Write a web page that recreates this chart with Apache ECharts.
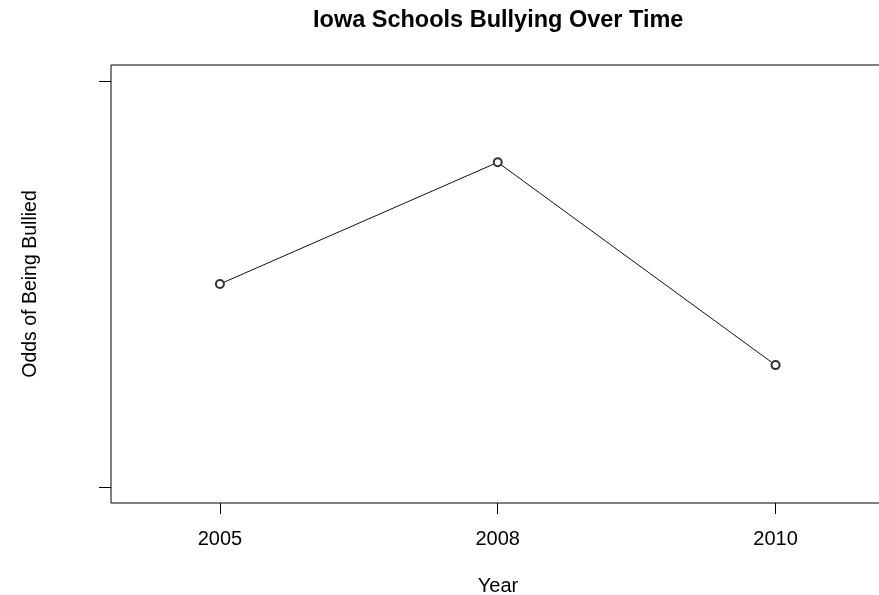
<!DOCTYPE html>
<html>
<head>
<meta charset="utf-8">
<script src="https://cdn.jsdelivr.net/npm/echarts@6/dist/echarts.min.js"></script>
<style>
  html, body { margin: 0; padding: 0; background: #fff; }
  #chart { width: 879px; height: 595px; }
</style>
</head>
<body>
<div id="chart"></div>
<script>
// Survey years (plotted at evenly spaced positions 1, 2, 3)
const years = ['2005', '2008', '2010'];
// Odds of being bullied for each survey year
const odds = [0.5, 0.8, 0.3];
// Y tick positions (drawn without labels)
const yTicks = [0, 1];

const positions = years.map((_, i) => i + 1);
const points = positions.map((p, i) => [p, odds[i]]);

const FONT = '"Liberation Sans", Arial, sans-serif';

const chart = echarts.init(document.getElementById('chart'), null, { renderer: 'canvas' });
chart.setOption({
  backgroundColor: '#ffffff',
  animation: false,
  title: {
    // centred over the plotting region, which runs past the right edge
    text: 'Iowa Schools Bullying Over Time',
    left: 308,
    top: 4,
    textStyle: { fontFamily: FONT, fontSize: 23.5, fontWeight: 'bold', color: '#000' }
  },
  grid: {
    left: 111,
    top: 65,
    right: -6,
    bottom: 92,
    outerBoundsMode: 'none',
    containLabel: false,
    show: true,
    borderColor: '#000',
    borderWidth: 1,
    backgroundColor: 'transparent'
  },
  xAxis: {
    type: 'value',
    min: 0.608,
    max: 3.394,
    name: 'Year',
    nameLocation: 'middle',
    nameGap: 73,
    nameTextStyle: { fontFamily: FONT, fontSize: 20, color: '#000', verticalAlign: 'top' },
    axisLine: { show: false, onZero: false },
    axisTick: {
      show: true,
      inside: false,
      length: 11,
      customValues: positions,
      lineStyle: { color: '#000', width: 1 }
    },
    axisLabel: {
      show: true,
      margin: 26,
      customValues: positions,
      fontFamily: FONT,
      fontSize: 20,
      color: '#000',
      formatter: v => years[Math.round(v) - 1] || ''
    },
    splitLine: { show: false }
  },
  yAxis: {
    type: 'value',
    min: -0.04,
    max: 1.04,
    name: 'Odds of Being Bullied',
    nameLocation: 'middle',
    nameGap: 70,
    nameRotate: 90,
    nameTextStyle: { fontFamily: FONT, fontSize: 19.5, color: '#000' },
    axisLine: { show: false, onZero: false },
    axisTick: {
      show: true,
      inside: false,
      length: 12,
      customValues: yTicks,
      lineStyle: { color: '#000', width: 1 }
    },
    axisLabel: { show: false, customValues: yTicks },
    splitLine: { show: false }
  },
  series: [{
    type: 'line',
    data: points,
    symbol: 'emptyCircle',
    symbolSize: 8,
    lineStyle: { color: '#111', width: 1 },
    itemStyle: { color: '#333', borderColor: '#333', borderWidth: 1 },
    emphasis: { disabled: true },
    silent: true
  }]
});
</script>
</body>
</html>
